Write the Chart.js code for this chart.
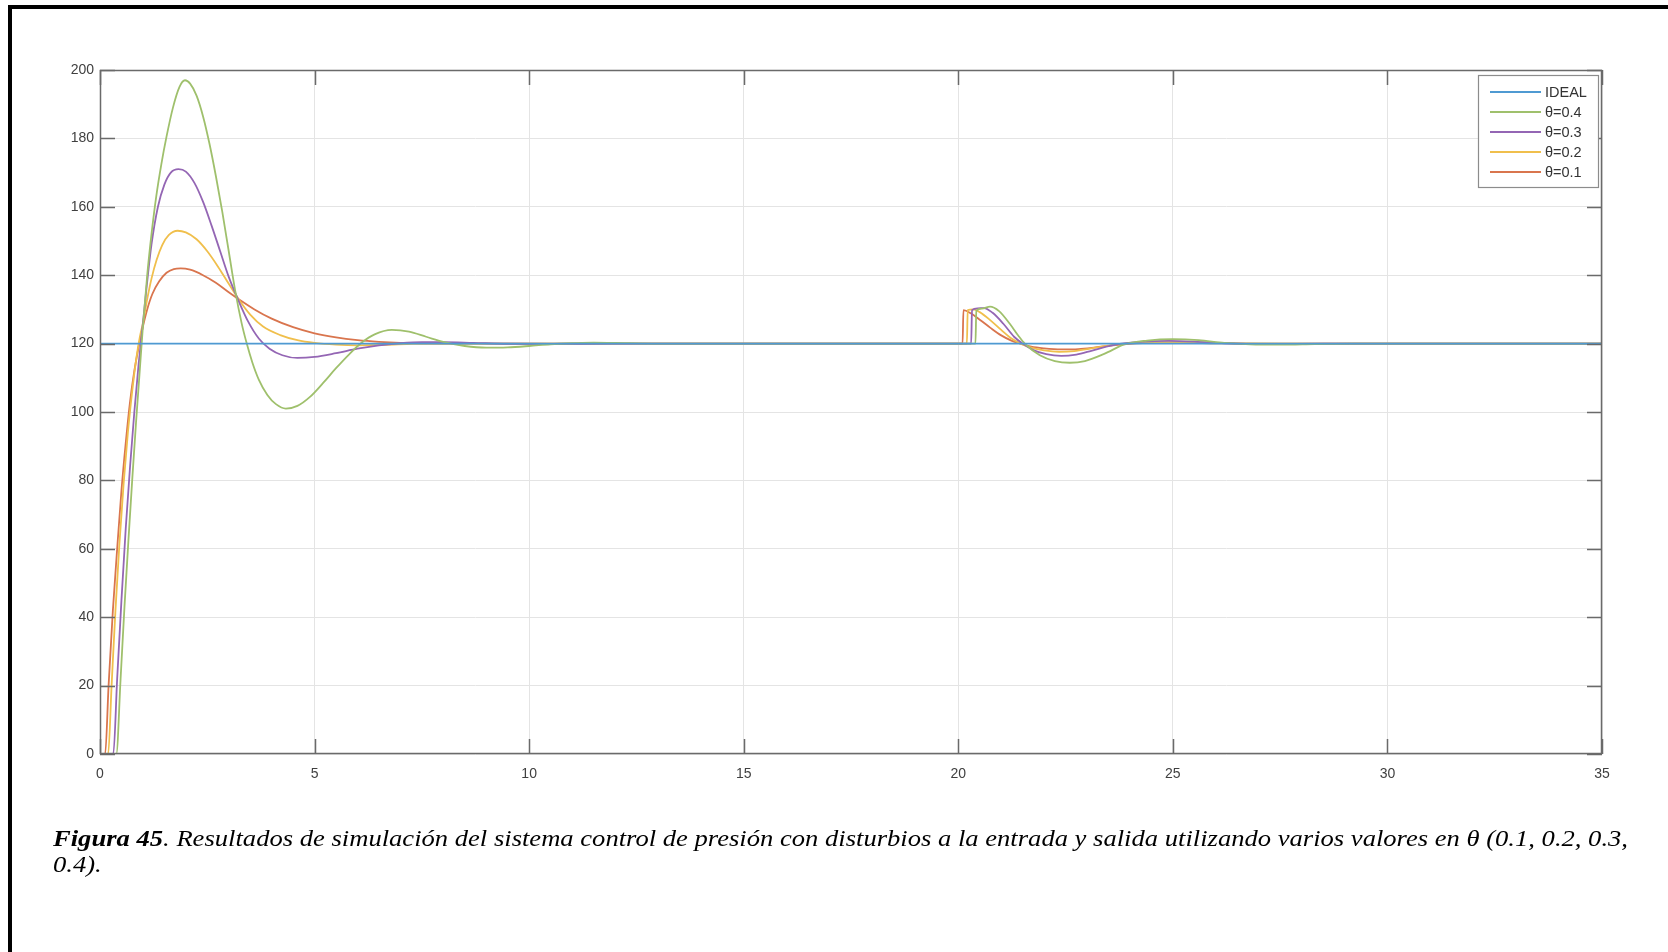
<!DOCTYPE html>
<html>
<head>
<meta charset="utf-8">
<script src="https://cdn.jsdelivr.net/npm/chart.js@4.4.1/dist/chart.umd.min.js"></script>
<style>
  html, body { margin: 0; padding: 0; background: #fff; width: 1668px; height: 952px; overflow: hidden; }
  #plot { position: absolute; left: 0; top: 0; }
  .rule { position: absolute; background: #000; }
  #cap {
    position: absolute; left: 53px; top: 825px;
    font-family: "Liberation Serif", "Times New Roman", serif;
    font-style: italic; font-size: 24px; line-height: 26px; color: #000;
    white-space: nowrap; transform-origin: 0 0;
  }
  #cap b { font-weight: bold; }
</style>
</head>
<body>
<canvas id="plot" width="1668" height="952"></canvas>
<div class="rule" style="left:8px;top:5px;width:1660px;height:4px;"></div>
<div class="rule" style="left:8px;top:5px;width:4px;height:947px;"></div>
<div id="cap"><span id="capLine1"><b>Figura 45</b>. Resultados de simulación del sistema control de presión con disturbios a la entrada y salida utilizando varios valores en θ (0.1, 0.2, 0.3,</span><br>0.4).</div>

<script>
// Axis ticks
const xTickValues = [0, 5, 10, 15, 20, 25, 30, 35];
const yTickValues = [0, 20, 40, 60, 80, 100, 120, 140, 160, 180, 200];

// Legend labels
const seriesLabels = ['IDEAL', 'θ=0.4', 'θ=0.3', 'θ=0.2', 'θ=0.1'];

// Set point
const tIdeal = [0, 35];
const vIdeal = [120, 120];

// θ = 0.4
const t04 = [0, 0.38, 0.48, 0.57, 0.66, 0.75, 0.84, 0.92, 1.0, 1.1, 1.2, 1.31, 1.43, 1.55, 1.7, 1.85, 1.98,
  2.1, 2.25, 2.4, 2.55, 2.7, 2.85, 3.0, 3.15, 3.3, 3.42, 3.55, 3.7, 3.9, 4.1, 4.33, 4.6, 4.9, 5.2, 5.5, 5.8,
  6.1, 6.4, 6.8, 7.2, 7.6, 8.0, 8.5, 9.0, 9.5, 10.0, 10.5, 11.0, 11.5, 12.0, 13.0,
  20.4, 20.42, 20.55, 20.74, 20.95, 21.2, 21.4, 21.55, 21.9, 22.25, 22.6, 22.95, 23.4, 23.9, 24.4, 25.0,
  25.6, 26.2, 26.8, 27.5, 28.3, 29.2, 35];
const v04 = [0, 0, 22, 43, 62, 80, 97, 111, 125, 140, 152, 163, 172.5, 180.5, 189, 195, 197,
  196, 192.5, 186.5, 178.5, 169, 158.5, 147, 135.5, 126, 120, 114.5, 109.5, 105, 102.3, 101, 101.8, 104.5, 108.5, 112.8, 116.8,
  120.3, 122.7, 124, 123.5, 122, 120.5, 119.3, 118.8, 118.9, 119.3, 119.8, 120.1, 120.3, 120.2, 120,
  120, 129.6, 130.2, 130.8, 129.5, 125.8, 122.3, 120, 116.6, 114.9, 114.4, 114.9, 117, 119.9, 120.9, 121.3,
  121, 120.2, 119.8, 119.7, 119.85, 120, 120];

// θ = 0.3
const t03 = [0, 0.31, 0.4, 0.5, 0.6, 0.7, 0.8, 0.9, 1.0, 1.09, 1.2, 1.35, 1.5, 1.65, 1.83,
  2.0, 2.2, 2.4, 2.6, 2.8, 3.0, 3.23, 3.45, 3.7, 3.95, 4.25, 4.6, 5.0, 5.5, 6.0, 6.5, 7.0, 7.5, 8.0,
  8.7, 9.5, 10.5, 12.0,
  20.3, 20.32, 20.45, 20.6, 20.8, 21.05, 21.3, 21.5, 21.75, 22.05, 22.4, 22.75, 23.1, 23.45, 23.8,
  24.3, 24.9, 25.5, 26.2, 27.2, 28.5, 35];
const v03 = [0, 0, 22, 45, 66, 84, 100, 114, 126, 137, 149, 160, 166.5, 170, 171,
  170.3, 167, 161.5, 154.5, 147, 139.5, 132.5, 126.5, 121.5, 118.5, 116.6, 115.8, 116.1, 117.2, 118.5, 119.5, 120.1, 120.4, 120.4,
  120.2, 119.95, 119.9, 120,
  120, 129.8, 130.3, 130.4, 129, 125.8, 122, 120, 118.1, 116.9, 116.4, 116.8, 117.9, 119.1, 120,
  120.6, 120.8, 120.6, 120.1, 119.85, 120, 120];

// θ = 0.2
const t02 = [0, 0.19, 0.27, 0.36, 0.45, 0.55, 0.65, 0.75, 0.85, 0.93, 1.0, 1.1, 1.2, 1.32, 1.45, 1.6, 1.81,
  2.0, 2.25, 2.5, 2.75, 3.0, 3.23, 3.5, 3.8, 4.2, 4.6, 5.0, 5.5, 6.0, 6.6, 7.3, 8.0,
  20.2, 20.22, 20.35, 20.5, 20.75, 21.0, 21.25, 21.45, 21.7, 22.0, 22.35, 22.7, 23.1, 23.5, 23.9,
  24.4, 25.0, 25.7, 26.5, 27.5, 29.0, 35];
const v02 = [0, 0, 20, 42, 61, 79, 94, 106, 116, 122, 126, 133, 139, 144.5, 148.8, 151.7, 153,
  152.5, 150.5, 147, 142.5, 137.5, 133, 128.5, 125, 122.5, 121, 120.2, 119.7, 119.5, 119.6, 119.9, 120,
  120, 129.8, 130, 129.2, 126.8, 124, 121.4, 120, 118.8, 118, 117.6, 117.8, 118.6, 119.4, 120,
  120.35, 120.45, 120.3, 120.05, 119.95, 120, 120];

// θ = 0.1
const t01 = [0, 0.12, 0.2, 0.3, 0.4, 0.5, 0.6, 0.7, 0.8, 0.9, 1.0, 1.1, 1.22, 1.38, 1.55, 1.72, 1.88,
  2.1, 2.4, 2.7, 3.0, 3.23, 3.6, 4.0, 4.5, 5.0, 5.5, 6.0, 6.5, 7.0, 8.0,
  20.1, 20.12, 20.3, 20.5, 20.75, 21.0, 21.25, 21.45, 21.7, 22.0, 22.4, 22.8, 23.2, 23.6, 24.0,
  24.5, 25.2, 26.0, 27.0, 35];
const v01 = [0, 0, 20, 42, 60, 77, 91, 103, 112, 119, 125, 130, 134.5, 138.2, 140.7, 141.8, 142,
  141.6, 140, 137.8, 135, 133, 130, 127.3, 124.8, 123, 121.8, 121, 120.5, 120.2, 120,
  120, 129.8, 128.8, 127, 124.6, 122.4, 120.8, 120, 119.1, 118.6, 118.3, 118.4, 118.9, 119.5, 119.9,
  120.2, 120.25, 120.1, 120, 120];

const seriesColors = ['#4f9ad2', '#9fc06c', '#9466b4', '#f0bf4c', '#d9754e'];

const pair = (ts, vs) => ts.map((t, i) => ({ x: t, y: vs[i] }));
const seriesData = [pair(tIdeal, vIdeal), pair(t04, v04), pair(t03, v03), pair(t02, v02), pair(t01, v01)];

const axisColor = '#6a6a6a';
const tickFont = { family: '"Liberation Sans", Arial, sans-serif', size: 14 };
const tickLen = 15;

// Box around the axes with inward tick marks on all four sides, plus the legend
const boxAndLegend = {
  id: 'boxAndLegend',
  afterDraw(chart) {
    const { ctx, chartArea: a, scales } = chart;
    ctx.save();
    ctx.strokeStyle = axisColor;
    ctx.lineWidth = 1.5;
    ctx.beginPath();
    xTickValues.forEach(v => {
      const px = Math.round(scales.x.getPixelForValue(v)) + 0.5;
      ctx.moveTo(px, a.bottom); ctx.lineTo(px, a.bottom - tickLen);
      ctx.moveTo(px, a.top); ctx.lineTo(px, a.top + tickLen);
    });
    yTickValues.forEach(v => {
      const py = Math.round(scales.y.getPixelForValue(v)) + 0.5;
      ctx.moveTo(a.left, py); ctx.lineTo(a.left + tickLen, py);
      ctx.moveTo(a.right, py); ctx.lineTo(a.right - tickLen, py);
    });
    ctx.stroke();
    ctx.strokeRect(a.left + 0.5, a.top + 0.5, a.right - a.left - 1, a.bottom - a.top - 1);

    // legend
    const lx = 1478, ly = 75, lw = 120, lh = 112;
    ctx.fillStyle = '#fff';
    ctx.fillRect(lx, ly, lw, lh);
    ctx.strokeStyle = '#8c8c8c';
    ctx.lineWidth = 1.2;
    ctx.strokeRect(lx + 0.5, ly + 0.5, lw, lh);
    ctx.font = '14.5px "Liberation Sans", Arial, sans-serif';
    ctx.textBaseline = 'middle';
    ctx.textAlign = 'left';
    chart.data.datasets.forEach((ds, i) => {
      const y = 92 + i * 20;
      ctx.strokeStyle = ds.borderColor;
      ctx.lineWidth = 2;
      ctx.beginPath();
      ctx.moveTo(1490, y); ctx.lineTo(1541, y);
      ctx.stroke();
      ctx.fillStyle = '#333';
      ctx.fillText(ds.label, 1545, y + 1);
    });
    ctx.restore();
  }
};

new Chart(document.getElementById('plot').getContext('2d'), {
  type: 'line',
  data: {
    datasets: seriesData.map((d, i) => ({
      label: seriesLabels[i],
      data: d,
      borderColor: seriesColors[i],
      backgroundColor: seriesColors[i],
      borderWidth: 1.8,
      pointRadius: 0,
      fill: false,
      cubicInterpolationMode: 'monotone'
    }))
  },
  options: {
    responsive: false,
    animation: false,
    events: [],
    layout: { padding: { left: 0, top: 70, right: 66, bottom: 158 } },
    plugins: { legend: { display: false }, tooltip: { enabled: false } },
    scales: {
      x: {
        type: 'linear', min: 0, max: 35,
        afterBuildTicks: s => { s.ticks = xTickValues.map(v => ({ value: v })); },
        afterFit: s => { s.height = 40; },
        grid: { color: '#e4e4e4', lineWidth: 1, drawTicks: false },
        border: { display: false },
        ticks: { padding: 12, color: '#404040', font: tickFont, maxRotation: 0 }
      },
      y: {
        type: 'linear', min: 0, max: 200,
        afterBuildTicks: s => { s.ticks = yTickValues.map(v => ({ value: v })); },
        afterFit: s => { s.width = 100; },
        grid: { color: '#e4e4e4', lineWidth: 1, drawTicks: false },
        border: { display: false },
        ticks: { padding: 6, color: '#404040', font: tickFont }
      }
    }
  },
  plugins: [boxAndLegend]
});

// fit the caption's first line to the text width
const line1 = document.getElementById('capLine1');
const w = line1.getBoundingClientRect().width;
document.getElementById('cap').style.transform = 'scaleX(' + (1575 / w) + ')';
</script>
</body>
</html>
